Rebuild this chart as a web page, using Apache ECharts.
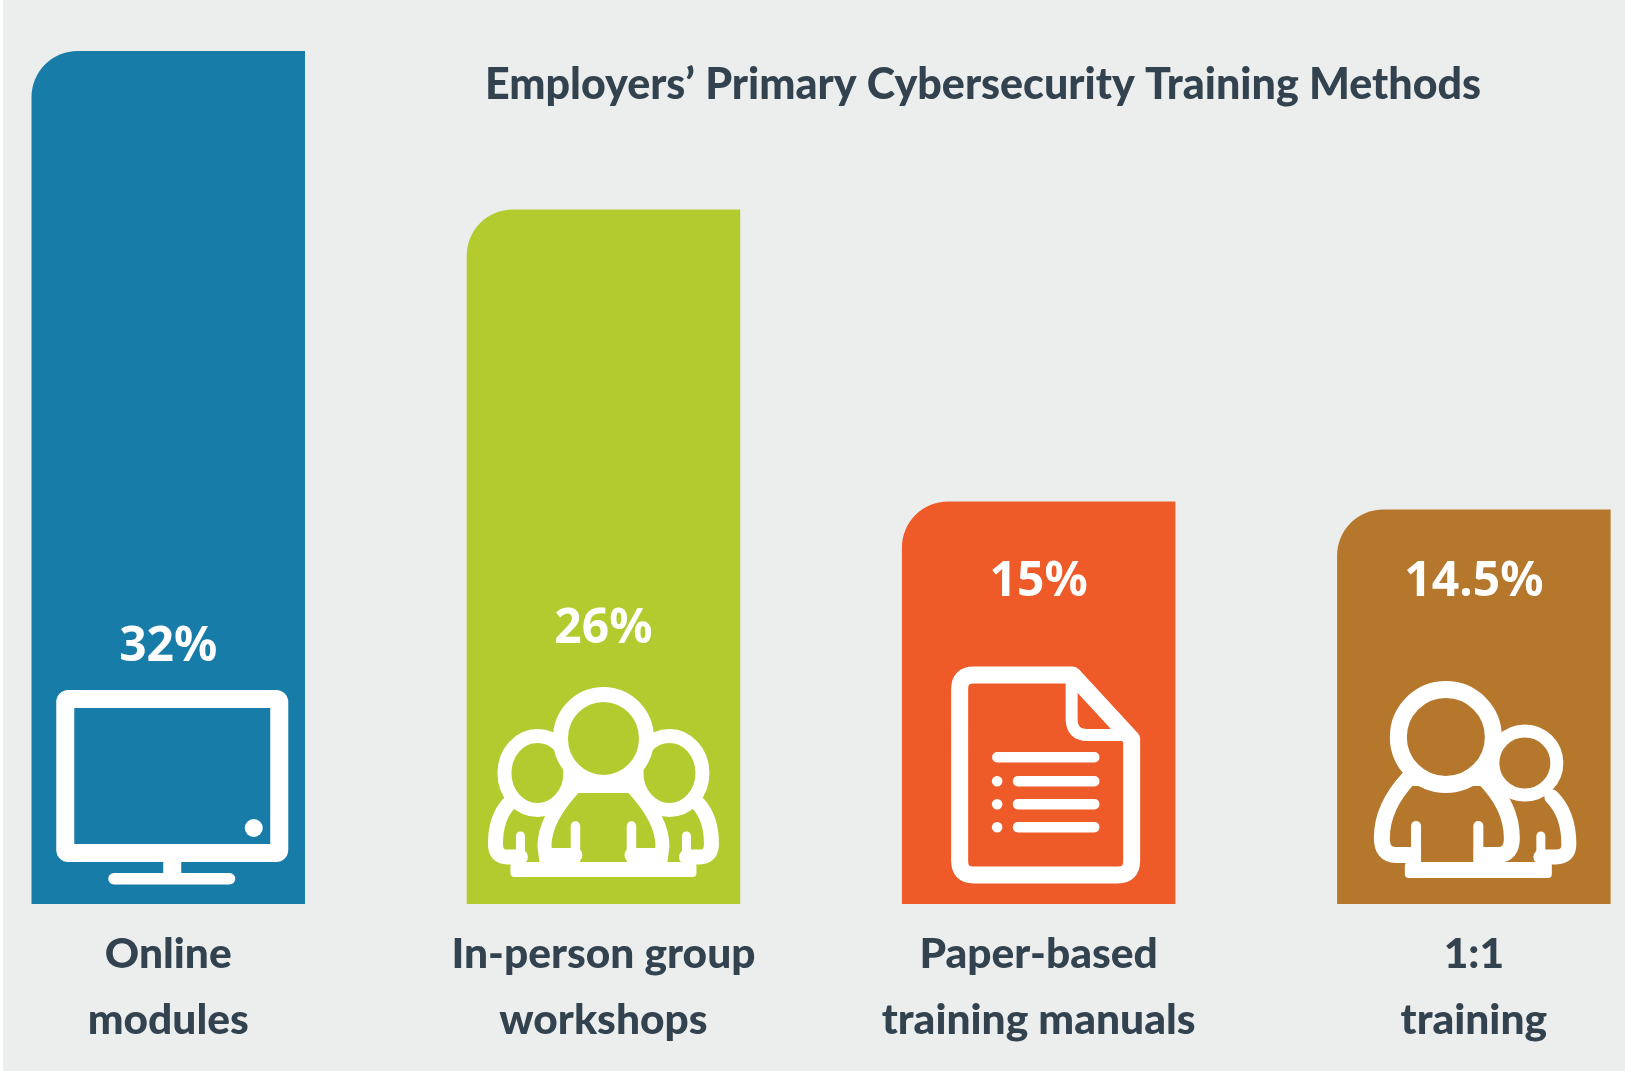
<!DOCTYPE html>
<html>
<head>
<meta charset="utf-8">
<style>
html,body{margin:0;padding:0;background:#fff;overflow:hidden}
#chart{position:absolute;left:3px;top:0;width:1622px;height:1071px}
</style>
<script src="https://cdn.jsdelivr.net/npm/echarts@6/dist/echarts.min.js"></script>
</head>
<body>
<div id="chart"></div>
<script>
const titleText = 'Employers’ Primary Cybersecurity Training Methods';
const categories = ['Online\nmodules', 'In-person group\nworkshops', 'Paper-based\ntraining manuals', '1:1\ntraining'];
// Bar heights (the original's bars are not exactly to scale with their captions).
const barHeights = [32, 26.05, 15.1, 14.8];
// Captions as printed on the bars.
const printedLabels = ['32%', '26%', '15%', '14.5%'];
const barColors = ['#187ca8', '#b3cb2f', '#ee5a28', '#b5772b'];

const labelLift = [233, 251, 298, 298];
const WHITE = '#ffffff';
const textFont = 'Lato, "Liberation Sans", sans-serif';

function line(d, w) {
  return {type: 'path', shape: {pathData: d}, style: {fill: 'none', stroke: WHITE, lineWidth: w, lineCap: 'round', lineJoin: 'round'}};
}
function blob(d, w, fill) {
  return {type: 'path', shape: {pathData: d}, style: {fill: fill, stroke: WHITE, lineWidth: w, lineJoin: 'round'}};
}
function solidRect(x, y, width, height, r) {
  return {type: 'rect', shape: {x, y, width, height, r}, style: {fill: WHITE}};
}
function dot(cx, cy, r) {
  return {type: 'circle', shape: {cx, cy, r}, style: {fill: WHITE}};
}
function head(cx, cy, rx, ry, w, fill) {
  return {type: 'ellipse', shape: {cx, cy, rx, ry}, style: {fill: fill, stroke: WHITE, lineWidth: w}};
}

const icons = [
  function monitor() {
    return [
      {type: 'rect', shape: {x: -103, y: -205, width: 214, height: 154, r: 3}, style: {fill: 'none', stroke: WHITE, lineWidth: 18, lineJoin: 'round'}},
      dot(85.5, -76, 9),
      solidRect(-5, -44, 18, 20, 0),
      solidRect(-60, -31, 127, 11.5, 5.7)
    ];
  },
  function group(color) {
    const out = [];
    [-1, 1].forEach(function (s) {
      out.push(head(s * 66, -131, 33, 37, 14, 'none'));
      out.push(line('M' + s * 95 + ',-100 C' + s * 104 + ',-90 ' + s * 108 + ',-75 ' + s * 108 + ',-60 Q' + s * 108 + ',-47 ' + s * 96 + ',-47 L' + s * 83 + ',-47', 15));
      out.push(line('M' + s * 83 + ',-68 L' + s * 83 + ',-47', 9));
    });
    out.push(blob('M-28,-118 C-45,-100 -59,-80 -59,-58 L-56,-35 L56,-35 L59,-58 C59,-80 45,-100 28,-118 Z', 14, color));
    out.push(solidRect(-93, -42, 186, 15, 4));
    [-1, 1].forEach(function (s) {
      out.push(line('M' + s * 56 + ',-49 L' + s * 28 + ',-49', 14));
      out.push(line('M' + s * 28 + ',-78 L' + s * 28 + ',-42', 9.5));
    });
    out.push(head(0, -165.6, 43, 44, 15, color));
    return out;
  },
  function page() {
    const out = [
      line('M-65,-229 L34,-229 L93,-165 L93,-43 Q93,-29 79,-29 L-65,-29 Q-79,-29 -79,-43 L-79,-215 Q-79,-229 -65,-229 Z', 17),
      line('M33,-226 L33,-185 Q33,-169 49,-169 L90,-169', 12),
      solidRect(-46.5, -152, 107.3, 10.5, 5)
    ];
    [-128, -105, -82].forEach(function (y) {
      out.push(solidRect(-25.8, y, 86.6, 10.5, 5));
      out.push(dot(-41.5, y + 5.2, 5.3));
    });
    return out;
  },
  function pair(color) {
    return [
      head(51, -141, 32, 32, 13, 'none'),
      line('M78,-107 C90,-95 95,-80 95,-60 Q95,-47 82,-47 L67,-47', 15),
      line('M67,-68 L67,-42', 9),
      blob('M-65,-126 C-80,-110 -92,-90 -92,-66 Q-92,-49 -78,-49 L24,-49 Q38,-49 38,-66 C38,-90 26,-110 10,-126 Z', 16, color),
      {type: 'rect', shape: {x: -53, y: -60, width: 53, height: 18}, style: {fill: color}},
      line('M-57.8,-78 L-57.8,-42', 10),
      line('M4.5,-78 L4.5,-42', 10),
      solidRect(-69, -42, 147, 16, 4),
      head(-28, -167, 47.5, 47.5, 17, color)
    ];
  }
];

const chart = echarts.init(document.getElementById('chart'));
chart.setOption({
  backgroundColor: '#eceeed',
  animation: false,
  title: {
    text: titleText,
    left: 975,
    top: 59,
    textAlign: 'center',
    textStyle: {fontFamily: textFont, fontWeight: 900, fontSize: 43, color: '#33424f'}
  },
  grid: {left: 165.25, top: 51, width: 1305.6, height: 853},
  xAxis: {
    type: 'category',
    data: categories,
    boundaryGap: false,
    axisLine: {show: false},
    axisTick: {show: false},
    axisLabel: {
      interval: 0, margin: 17, lineHeight: 66,
      fontFamily: textFont, fontWeight: 900, fontSize: 42.5, color: '#33424f'
    }
  },
  yAxis: {type: 'value', min: 0, max: 32, show: false, splitLine: {show: false}},
  series: [
    {
      type: 'bar',
      z: 2,
      clip: false,
      barWidth: 273.5,
      data: barHeights.map(function (v, i) {
        return {
          value: v,
          itemStyle: {color: barColors[i], borderRadius: [46, 0, 0, 0]},
          label: {
            show: true,
            position: 'insideBottom',
            distance: labelLift[i],
            formatter: printedLabels[i],
            color: WHITE,
            fontFamily: '"Noto Sans", sans-serif',
            fontWeight: 'bold',
            fontSize: 48
          }
        };
      })
    },
    {
      type: 'custom',
      z: 10,
      clip: false,
      silent: true,
      data: barHeights.map(function (v, i) { return [i, 0]; }),
      encode: {x: 0, y: 1},
      renderItem: function (params, api) {
        const i = params.dataIndex;
        const p = api.coord([api.value(0), 0]);
        return {type: 'group', x: p[0], y: p[1], children: icons[i](barColors[i])};
      }
    }
  ]
});
</script>
</body>
</html>
